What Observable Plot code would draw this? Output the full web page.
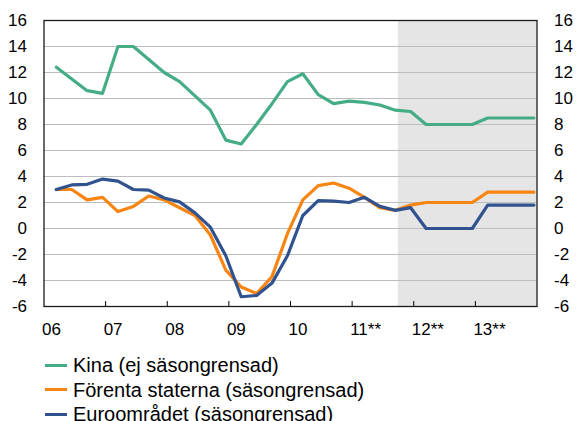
<!DOCTYPE html>
<html>
<head>
<meta charset="utf-8">
<script src="https://cdn.jsdelivr.net/npm/d3@7"></script>
<script src="https://cdn.jsdelivr.net/npm/@observablehq/plot@0.6"></script>
<style>
  html, body { margin: 0; padding: 0; background: #fff; }
  body { font-family: "Liberation Sans", Arial, sans-serif; width: 578px; height: 421px; overflow: hidden; }
  #legend { margin-left: 45px; font-size: 20px; line-height: 24.5px; color: #000; }
  .item { display: flex; align-items: center; white-space: nowrap; }
  .sw { display: inline-block; width: 22px; height: 3px; margin-right: 6px; }
</style>
</head>
<body>
<div id="chart"></div>
<div id="legend"></div>
<script>
// Quarters 2006 K1 – 2013 K4
const quarters = [
  "2006K1","2006K2","2006K3","2006K4","2007K1","2007K2","2007K3","2007K4",
  "2008K1","2008K2","2008K3","2008K4","2009K1","2009K2","2009K3","2009K4",
  "2010K1","2010K2","2010K3","2010K4","2011K1","2011K2","2011K3","2011K4",
  "2012K1","2012K2","2012K3","2012K4","2013K1","2013K2","2013K3","2013K4"
];
const kina = [12.4, 11.5, 10.6, 10.4, 14.0, 14.0, 13.0, 12.0,
              11.3, 10.2, 9.1, 6.8, 6.5, 8.0, 9.6, 11.3,
              11.9, 10.3, 9.6, 9.8, 9.7, 9.5, 9.1, 9.0,
              8.0, 8.0, 8.0, 8.0, 8.5, 8.5, 8.5, 8.5];
const usa = [3.0, 3.0, 2.2, 2.4, 1.3, 1.7, 2.5, 2.2,
             1.6, 1.0, -0.5, -3.2, -4.5, -5.0, -3.7, -0.4,
             2.2, 3.3, 3.5, 3.1, 2.4, 1.6, 1.4, 1.8,
             2.0, 2.0, 2.0, 2.0, 2.8, 2.8, 2.8, 2.8];
const euro = [3.0, 3.35, 3.4, 3.8, 3.65, 3.0, 2.95, 2.35,
              2.05, 1.2, 0.1, -2.1, -5.25, -5.15, -4.2, -2.1,
              1.0, 2.15, 2.1, 2.0, 2.4, 1.7, 1.4, 1.6,
              0.0, 0.0, 0.0, 0.0, 1.8, 1.8, 1.8, 1.8];

const seriesNames = ["Kina (ej säsongrensad)", "Förenta staterna (säsongrensad)", "Euroområdet (säsongrensad)"];
const seriesColors = ["#45AD85", "#F88412", "#30528F"];

const yearTicks = [2006, 2007, 2008, 2009, 2010, 2011, 2012, 2013];
const yearLabels = ["06", "07", "08", "09", "10", "11**", "12**", "13**"];
const yTicks = [-6, -4, -2, 0, 2, 4, 6, 8, 10, 12, 14, 16];
const forecastStart = 2011.75;
const xEnd = 2014;

// position of each quarterly observation within the year
const qPos = q => +q.slice(0, 4) + (+q.slice(5) - 1) / 4 + 0.2;

const rows = (vals) => quarters.map((q, i) => ({x: qPos(q), y: vals[i]}));
const kinaData = rows(kina), usaData = rows(usa), euroData = rows(euro);
const labelOf = new Map(yearTicks.map((t, i) => [t, yearLabels[i]]));

const chart = Plot.plot({
  width: 578,
  height: 353,
  marginLeft: 43.5,
  marginRight: 41.5,
  marginTop: 20,
  marginBottom: 47,
  style: {fontFamily: "'Liberation Sans', Arial, sans-serif", color: "#000", background: "#fff"},
  x: {type: "linear", domain: [2006, xEnd]},
  y: {domain: [-6, 16]},
  marks: [
    Plot.rect([{x1: forecastStart, x2: xEnd}], {x1: "x1", x2: "x2", fill: "#e5e5e5"}),
    Plot.ruleY(yTicks.filter(v => v > -6 && v < 16), {stroke: "#bdbdbd", strokeWidth: 1}),
    Plot.ruleX(yearTicks.slice(1), {y1: -6, y2: -5.62, stroke: "#000", strokeWidth: 1}),
    Plot.axisY({anchor: "left", label: null, ticks: yTicks, tickSize: 0, tickPadding: 17, fontSize: 17, tickFormat: d => String(d)}),
    Plot.axisY({anchor: "right", label: null, ticks: yTicks, tickSize: 0, tickPadding: 17, fontSize: 17, tickFormat: d => String(d)}),
    Plot.axisX({anchor: "bottom", label: null, ticks: yearTicks, tickSize: 0, tickPadding: 16, fontSize: 17,
                textAnchor: "start", dx: -2, tickFormat: d => labelOf.get(d)}),
    Plot.line(kinaData, {x: "x", y: "y", stroke: seriesColors[0], strokeWidth: 3.2, strokeLinejoin: "round"}),
    Plot.line(usaData, {x: "x", y: "y", stroke: seriesColors[1], strokeWidth: 3.2, strokeLinejoin: "round"}),
    Plot.line(euroData, {x: "x", y: "y", stroke: seriesColors[2], strokeWidth: 3.2, strokeLinejoin: "round"}),
    Plot.frame({stroke: "#1a1a1a", strokeWidth: 1.3})
  ]
});
document.getElementById("chart").appendChild(chart);

const legend = document.getElementById("legend");
seriesNames.forEach((name, i) => {
  const item = document.createElement("div");
  item.className = "item";
  const sw = document.createElement("span");
  sw.className = "sw";
  sw.style.background = seriesColors[i];
  const t = document.createElement("span");
  t.textContent = name;
  item.appendChild(sw);
  item.appendChild(t);
  legend.appendChild(item);
});
</script>
</body>
</html>
